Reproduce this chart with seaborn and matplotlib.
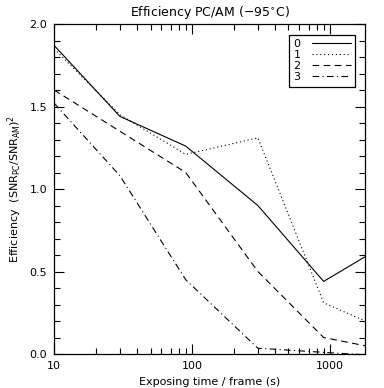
import numpy as np
import pandas as pd
import matplotlib
matplotlib.use("Agg")
import matplotlib.pyplot as plt
import seaborn as sns
from matplotlib.ticker import FixedLocator, NullFormatter, MultipleLocator

# exposure times (s) and efficiency per series
exp_time = [10, 30, 90, 300, 900, 1800]
eff_0 = [1.87, 1.44, 1.26, 0.90, 0.44, 0.59]
eff_1 = [1.85, 1.45, 1.21, 1.31, 0.31, 0.20]
eff_2 = [1.60, 1.35, 1.10, 0.50, 0.10, 0.05]
eff_3 = [1.52, 1.08, 0.45, 0.035, 0.01, -0.005]
series_names = ["0", "1", "2", "3"]

df = pd.DataFrame({
    "time": exp_time * 4,
    "eff": eff_0 + eff_1 + eff_2 + eff_3,
    "series": [s for s in series_names for _ in exp_time],
})

sns.set_style("ticks")
plt.rcParams["font.family"] = ["DejaVu Sans"]
plt.rcParams["font.size"] = 8
for k in ["text.color", "axes.labelcolor", "xtick.color", "ytick.color"]:
    plt.rcParams[k] = "black"

fig = plt.figure(figsize=(3.84, 3.88), dpi=100)
ax = fig.add_axes([0.141, 0.0876, 0.81, 0.8505])

dash_styles = {"0": "", "1": (1, 2.5), "2": (6, 4), "3": (6, 3, 1, 3)}
sns.lineplot(data=df, x="time", y="eff", style="series", dashes=dash_styles,
             color="black", linewidth=0.8, ax=ax, estimator=None, sort=False)

ax.set_xscale("log")
ax.set_xlim(10, 1800)
ax.set_ylim(0, 2.0)
ax.xaxis.set_major_locator(FixedLocator([10, 100, 1000]))
ax.set_xticklabels(["10", "100", "1000"])
ax.xaxis.set_minor_locator(FixedLocator([v * d for d in (10, 100) for v in range(2, 10)]))
ax.xaxis.set_minor_formatter(NullFormatter())
ax.yaxis.set_major_locator(MultipleLocator(0.5))
ax.yaxis.set_minor_locator(MultipleLocator(0.1))
ax.set_yticklabels(["%.1f" % v for v in ax.get_yticks()])

ax.tick_params(which="both", direction="in", top=True, right=True, color="black",
               width=0.8, labelsize=8, pad=5)
ax.tick_params(which="major", length=7)
ax.tick_params(which="minor", length=4)
for sp in ax.spines.values():
    sp.set_linewidth(0.9)
    sp.set_color("black")

ax.set_xlabel("Exposing time / frame (s)", fontsize=8)
ax.set_ylabel(r"Efficiency  (SNR$_{\mathrm{PC}}$/SNR$_{\mathrm{AM}}$)$^2$", fontsize=8)
ax.set_title("Efficiency PC/AM (\u221295$^{\\circ}$C)", fontsize=9, pad=6)

leg = ax.legend(loc="upper right", markerfirst=False, fontsize=8, fancybox=False,
                edgecolor="black", framealpha=1, handlelength=3.5, handletextpad=1.0,
                borderpad=0.4, labelspacing=0.1, bbox_to_anchor=(0.985, 0.985))
leg.get_frame().set_linewidth(0.9)

fig.savefig("out.png", dpi=100)
